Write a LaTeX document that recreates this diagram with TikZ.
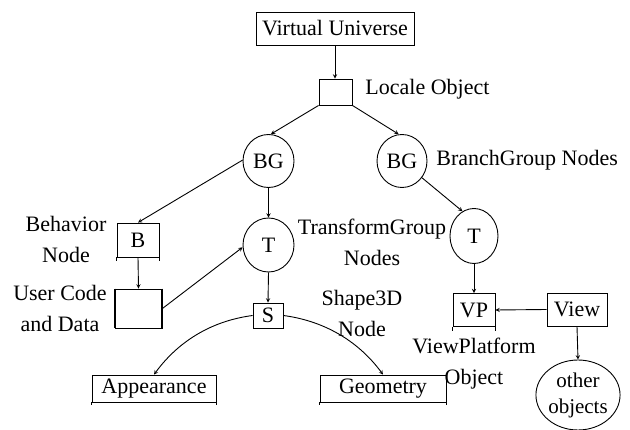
\documentclass[tikz,border=0pt]{standalone}
\usepackage{fontspec}
\setmainfont{Liberation Serif}
\usepackage{tikz}
\usetikzlibrary{positioning,shapes.geometric}

\begin{document}
\begin{tikzpicture}[x=1pt,y=-1pt,
  font=\fontsize{22}{31}\selectfont,
  line width=0.9pt,
  box/.style={draw,rectangle,inner sep=0pt},
  grp/.style={draw,ellipse,inner sep=0pt,minimum width=51,minimum height=53},
  lbl/.style={align=center,inner sep=0pt},
  link/.style={->,>=stealth}]
\useasboundingbox (0,0) rectangle (630,430);

%Shape: Rectangle
\node [box,minimum width=158,minimum height=33] (universe) at (335,28.5) {Virtual Universe};
%Shape: Square
\node [box,minimum width=33,minimum height=26] (locale) at (335.5,92) {};
%Shape: Ellipse
\node [grp] (bgLeft) at (268.5,161) {BG};
%Shape: Ellipse
\node [grp,minimum width=50] (bgRight) at (402,161) {BG};
%Shape: Rectangle
\node [box,minimum width=42,minimum height=34] (behavior) at (138,240) {B};
%Shape: Ellipse
\node [grp,minimum height=54] (tgLeft) at (268.5,245) {T};
%Shape: Ellipse
\node [grp,minimum width=48,minimum height=55] (tgRight) at (474,236) {T};
%Shape: Rectangle
\node [box,minimum width=47,minimum height=39] (userCode) at (138.5,308.5) {};
%Shape: Rectangle
\node [box,minimum width=30,minimum height=25] (shape) at (268,315.5) {S};
%Shape: Rectangle
\node [box,minimum width=124,minimum height=27] (appearance) at (154,388.5) {Appearance};
%Shape: Rectangle
\node [box,minimum width=126,minimum height=27] (geometry) at (383,388.5) {Geometry};
%Shape: Rectangle
\node [box,minimum width=42,minimum height=33] (platform) at (474,310) {VP};
%Shape: Rectangle
\node [box,minimum width=60,minimum height=33] (view) at (577,309.5) {View};
%Shape: Ellipse
\node [draw,ellipse,inner sep=0pt,minimum width=70,minimum height=70,lbl,font=\fontsize{21}{26}\selectfont] (others) at (578,395) {other\\objects};

% side bars
\draw (behavior.south west) -- ++(0,4) (behavior.south east) -- ++(0,4);
\draw (platform.south west) -- ++(0,4) (platform.south east) -- ++(0,4);
\draw (appearance.south west) -- ++(0,3) (appearance.south east) -- ++(0,3);
\draw (geometry.south west) -- ++(0,3) (geometry.south east) -- ++(0,3);
\draw [line width=2pt] (userCode.north west) -- (userCode.south west);
\draw [line width=2pt] (userCode.north east) -- (userCode.south east);

% Text Node
\node [lbl,anchor=west] (localeLbl) at (365,89) {Locale Object};
% Text Node
\node [lbl,anchor=west] (branchLbl) at (436,160) {BranchGroup Nodes};
% Text Node
\node [lbl] (behaviorLbl) at (66,239) {Behavior\\Node};
% Text Node
\node [lbl] (transformLbl) at (372,242) {TransformGroup\\Nodes};
% Text Node
\node [lbl] (userLbl) at (60,308) {User Code\\and Data};
% Text Node
\node [lbl] (shapeLbl) at (362,313) {Shape3D\\Node};
% Text Node
\node [lbl] (platformLbl) at (474,364) {ViewPlatform\\Object};

% connectors
\draw [link] (universe.south) -- (universe.south |- locale.north);
\draw [link] (locale.south west) -- (bgLeft.85);
\draw [link] (locale.south east) -- (bgRight.97);
\draw [link] (bgLeft.178) -- (behavior.north);
\draw [link] (bgLeft.south) -- (tgLeft.north);
\draw [link] (bgRight.-40) -- (tgRight.115);
\draw [link] (behavior.south) -- (userCode.north);
\draw [link] (userCode.east) -- (tgLeft.185);
\draw [link] (tgLeft.south) -- (shape.north);
\draw [link] (shape.west) .. controls +(-45,6) and +(22,-30) .. (appearance.north);
\draw [link] (shape.east) .. controls +(45,6) and +(-22,-30) .. (geometry.north);
\draw [link] (tgRight.south) -- (tgRight.south |- platform.north);
\draw [link] (view.west) -- (platform.east);
\draw [link] (view.south) -- (others.north);

\end{tikzpicture}
\end{document}
